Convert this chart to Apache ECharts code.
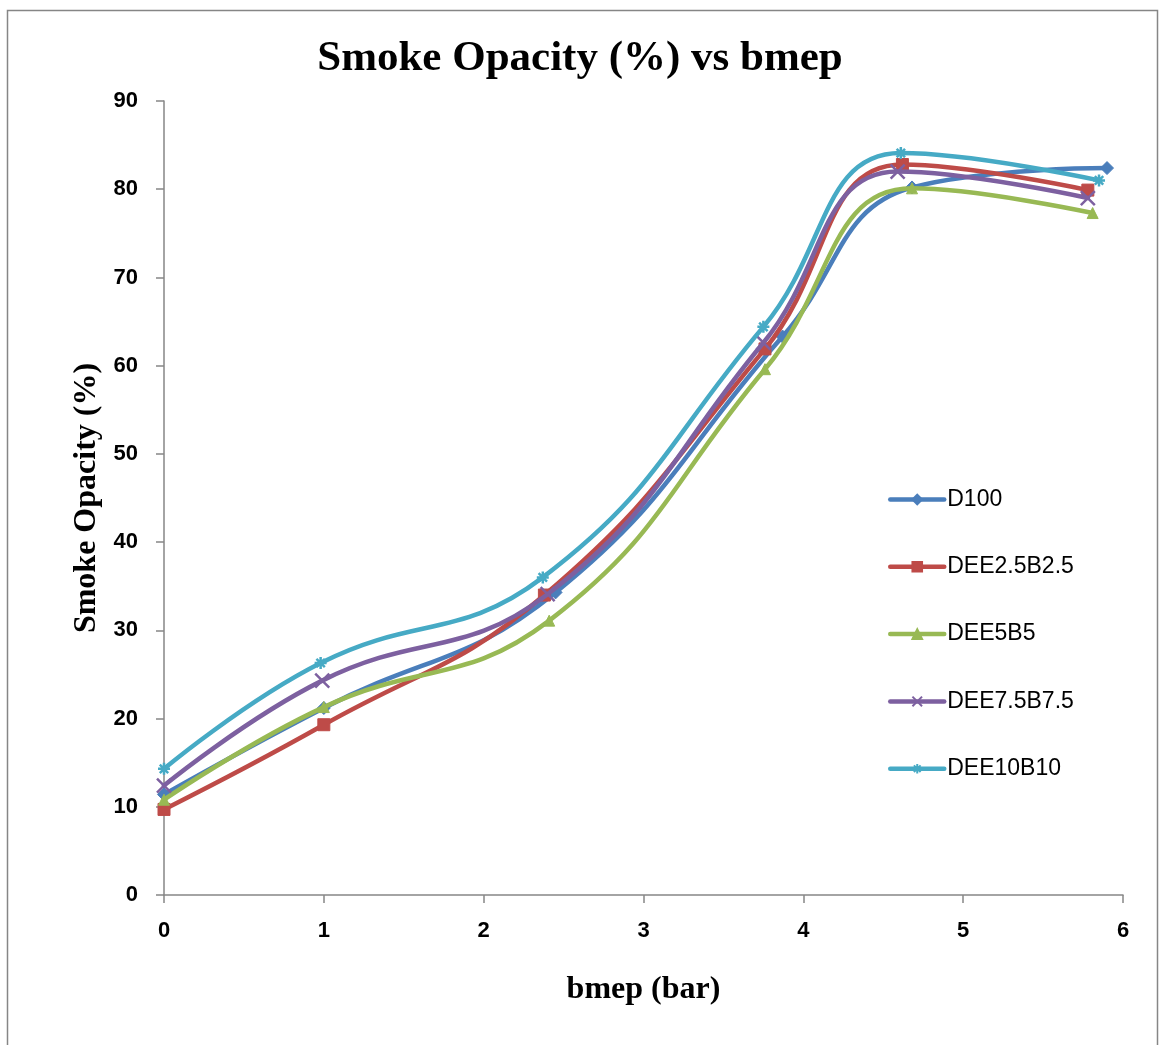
<!DOCTYPE html>
<html>
<head>
<meta charset="utf-8">
<title>Smoke Opacity vs bmep</title>
<script src="https://cdn.jsdelivr.net/npm/echarts@6/dist/echarts.min.js"></script>
<style>
  html, body { margin: 0; padding: 0; background: #ffffff; }
  #chart { width: 1160px; height: 1045px; }
</style>
</head>
<body>
<div id="chart"></div>
<script>
// bmep (bar) readings for each blend
const bmepD100 = [0, 1, 2.45, 3.87, 4.68, 5.9];
const bmepDEE25 = [0, 1, 2.38, 3.76, 4.62, 5.78];
const bmepDEE5 = [0, 1, 2.41, 3.76, 4.68, 5.81];
const bmepDEE75 = [0, 0.99, 2.4, 3.75, 4.59, 5.78];
const bmepDEE10 = [0, 0.98, 2.37, 3.75, 4.61, 5.85];

// Smoke opacity (%) for each blend
const opacityD100 = [11.4, 21.2, 34.3, 63.3, 80.2, 82.4];
const opacityDEE25 = [9.7, 19.3, 34.0, 61.9, 82.8, 79.9];
const opacityDEE5 = [10.8, 21.3, 31.1, 59.6, 80.1, 77.3];
const opacityDEE75 = [12.4, 24.3, 34.1, 62.6, 82.0, 79.0];
const opacityDEE10 = [14.3, 26.3, 36.0, 64.4, 84.1, 81.0];

const seriesNames = ['D100', 'DEE2.5B2.5', 'DEE5B5', 'DEE7.5B7.5', 'DEE10B10'];
const yTicks = [0, 10, 20, 30, 40, 50, 60, 70, 80, 90];
const xTicks = [0, 1, 2, 3, 4, 5, 6];

const pair = (xs, ys) => xs.map((x, i) => [x, ys[i]]);

const colors = ['#4A7EBB', '#BE4B48', '#98B954', '#7D60A0', '#46AAC5'];
const symbols = [
  'diamond',
  'rect',
  'triangle',
  'path://M0,0L10,10M10,0L0,10',
  'path://M0,5L10,5M5,0L5,10M1.5,1.5L8.5,8.5M8.5,1.5L1.5,8.5'
];
const symbolSizes = [13, 12, 11, 14, 12];
const dataSets = [
  pair(bmepD100, opacityD100),
  pair(bmepDEE25, opacityDEE25),
  pair(bmepDEE5, opacityDEE5),
  pair(bmepDEE75, opacityDEE75),
  pair(bmepDEE10, opacityDEE10)
];

const series = seriesNames.map((name, i) => {
  const strokeOnly = i >= 3;
  return {
    name: name,
    type: 'line',
    data: dataSets[i],
    smooth: 0.45,
    symbol: symbols[i],
    symbolSize: symbolSizes[i],
    showAllSymbol: true,
    lineStyle: { color: colors[i], width: 4.5, cap: 'round', join: 'round' },
    itemStyle: strokeOnly
      ? { color: colors[i], borderColor: colors[i], borderWidth: 2.5 }
      : { color: colors[i], borderColor: colors[i], borderWidth: 1 },
    emphasis: { disabled: true },
    z: 2 + i
  };
});

const serifBold = {
  fontFamily: 'Liberation Serif',
  fontWeight: 'bold',
  fontSize: 32,
  color: '#000000'
};
const tickFont = {
  fontFamily: 'Liberation Sans',
  fontWeight: 'bold',
  fontSize: 22,
  color: '#000000'
};

const chart = echarts.init(document.getElementById('chart'), null, { renderer: 'canvas' });
chart.setOption({
  animation: false,
  backgroundColor: '#ffffff',
  color: colors,
  title: {
    text: 'Smoke Opacity (%) vs bmep',
    left: 'center',
    top: 32,
    textStyle: {
      fontFamily: 'Liberation Serif',
      fontWeight: 'bold',
      fontSize: 43,
      color: '#000000'
    }
  },
  graphic: [{
    type: 'rect',
    shape: { x: 7.5, y: 10.5, width: 1150, height: 1050 },
    style: { fill: 'none', stroke: '#868686', lineWidth: 1.5 },
    silent: true,
    z: -10
  }],
  legend: {
    orient: 'vertical',
    left: 883,
    top: 483,
    itemWidth: 54,
    itemHeight: 12,
    itemGap: 44.3,
    data: seriesNames,
    lineStyle: { width: 4.5, cap: 'round' },
    textStyle: {
      fontFamily: 'Liberation Sans',
      fontSize: 23,
      color: '#000000',
      padding: [0, 0, 0, -2]
    }
  },
  grid: {
    left: 164,
    top: 101,
    right: 37,
    bottom: 150,
    containLabel: false
  },
  xAxis: {
    type: 'value',
    min: 0,
    max: 6,
    interval: 1,
    name: 'bmep (bar)',
    nameLocation: 'middle',
    nameGap: 79,
    nameTextStyle: serifBold,
    axisLine: { show: true, onZero: false, lineStyle: { color: '#868686', width: 1.5 } },
    axisTick: { show: true, length: 8, inside: false, lineStyle: { color: '#868686', width: 1.5 } },
    splitLine: { show: false },
    axisLabel: Object.assign({
      margin: 25,
      formatter: v => (xTicks.includes(v) ? String(v) : '')
    }, tickFont)
  },
  yAxis: {
    type: 'value',
    min: 0,
    max: 90,
    interval: 10,
    name: 'Smoke Opacity (%)',
    nameLocation: 'middle',
    nameGap: 58,
    nameTextStyle: serifBold,
    axisLine: { show: true, lineStyle: { color: '#868686', width: 1.5 } },
    axisTick: { show: true, length: 8, inside: false, lineStyle: { color: '#868686', width: 1.5 } },
    splitLine: { show: false },
    axisLabel: Object.assign({
      margin: 26,
      formatter: v => (yTicks.includes(v) ? String(v) : '')
    }, tickFont)
  },
  series: series
});
</script>
</body>
</html>
